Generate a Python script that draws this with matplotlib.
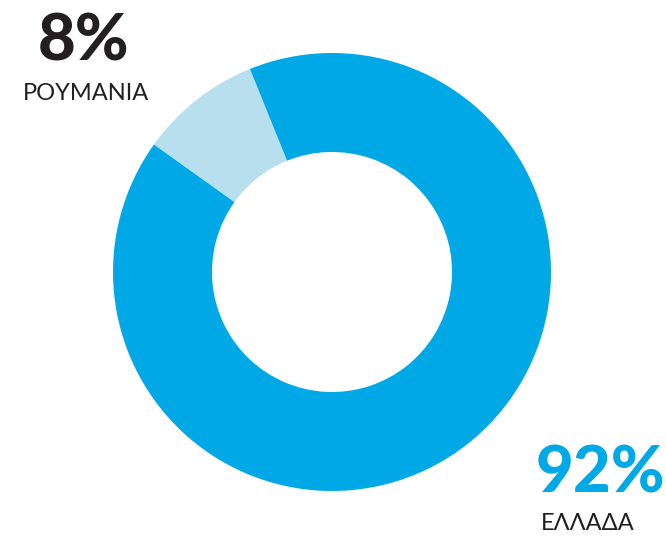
import matplotlib
matplotlib.use("Agg")
import matplotlib.pyplot as plt

# shares as drawn (the light slice spans ~32 deg in the picture)
countries = ["ΡΟΥΜΑΝΙΑ", "ΕΛΛΑΔΑ"]
shares = [9, 91]
pct_labels = ["8%", "92%"]
colors = ["#B8DFEE", "#00A9E6"]
text_colors = ["#231F20", "#00A9E6"]

W, H = 666, 537
fig = plt.figure(figsize=(W / 100, H / 100), dpi=100)
ax = fig.add_axes([0, 0, 1, 1])
ax.set_xlim(0, W)
ax.set_ylim(0, H)
ax.set_aspect("equal")
ax.axis("off")

ax.pie(shares, colors=colors, startangle=112, counterclock=True,
       center=(332, H - 272), radius=219,
       wedgeprops=dict(width=99, edgecolor="none", linewidth=0))
ax.set_xlim(0, W)
ax.set_ylim(0, H)

# big percentages + country names
ax.text(84, H - 42, pct_labels[0], fontsize=47, fontweight="black",
        family="Lato", color=text_colors[0], ha="center", va="center")
ax.text(86, H - 93, countries[0], fontsize=17, fontweight="normal",
        family="Lato", color="#231F20", ha="center", va="center")

ax.text(600, H - 474, pct_labels[1], fontsize=47, fontweight="black",
        family="Lato", color=text_colors[1], ha="center", va="center")
ax.text(588, H - 524, countries[1], fontsize=17, fontweight="normal",
        family="Lato", color="#231F20", ha="center", va="center")

fig.savefig("out.png", dpi=100)
